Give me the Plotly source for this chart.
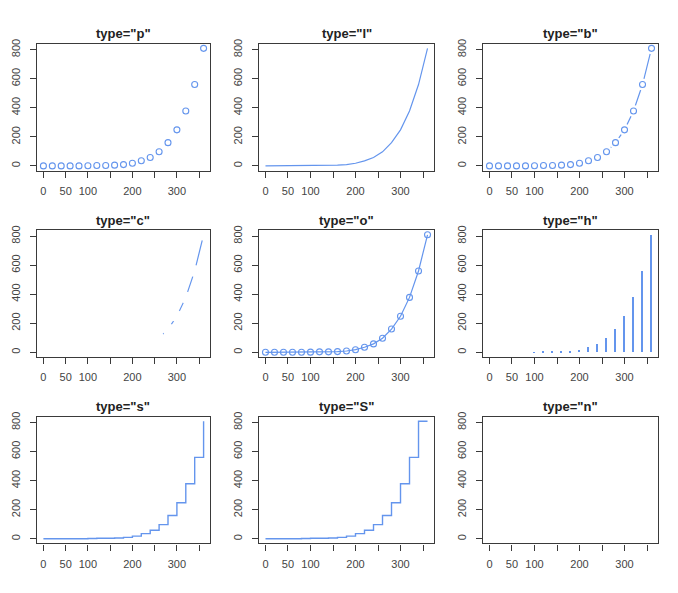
import plotly.graph_objects as go

# ---- data ----
x_vals = [0, 20, 40, 60, 80, 100, 120, 140, 160, 180, 200, 220, 240, 260, 280, 300, 320, 340, 360]
y_vals = [0, 0, 0, 0, 0, 1, 3, 3, 5, 9, 18, 35, 58, 97, 160, 248, 378, 560, 809]
panel_types = ["p", "l", "b", "c", "o", "h", "s", "S", "n"]
x_tick_vals = [0, 50, 100, 150, 200, 250, 300, 350]
x_tick_text = ["0", "50", "100", "", "200", "", "300", ""]
y_tick_vals = [0, 200, 400, 600, 800]

BLUE = "#6495ED"
W, H = 678, 593
col_px = [(37, 210), (259, 434), (483, 658)]
row_px = [(39, 167), (227, 355), (415, 543)]

xr = [min(x_vals) - 0.04 * (max(x_vals) - min(x_vals)), max(x_vals) + 0.04 * (max(x_vals) - min(x_vals))]
yr = [min(y_vals) - 0.04 * (max(y_vals) - min(y_vals)), max(y_vals) + 0.04 * (max(y_vals) - min(y_vals))]

fig = go.Figure()
annotations = []
layout = {}

for i, t in enumerate(panel_types):
    r, c = divmod(i, 3)
    n = i + 1
    xa = "x" if n == 1 else f"x{n}"
    ya = "y" if n == 1 else f"y{n}"
    xkey = "xaxis" if n == 1 else f"xaxis{n}"
    ykey = "yaxis" if n == 1 else f"yaxis{n}"
    x0, x1 = col_px[c]
    y0, y1 = row_px[r]
    layout[xkey] = dict(
        domain=[x0 / W, x1 / W], anchor=ya, range=xr, showgrid=False, zeroline=False,
        showline=True, mirror=True, linecolor="#3a3a3a", linewidth=1.3,
        ticks="outside", ticklen=6, tickwidth=1.2, tickcolor="#3a3a3a",
        tickvals=x_tick_vals, ticktext=x_tick_text, ticklabelstandoff=4,
        tickfont=dict(family="Liberation Sans, Arial", size=11, color="#444444"),
    )
    layout[ykey] = dict(
        domain=[1 - y1 / H, 1 - y0 / H], anchor=xa, range=yr, showgrid=False, zeroline=False,
        showline=True, mirror=True, linecolor="#3a3a3a", linewidth=1.3,
        ticks="outside", ticklen=6, tickwidth=1.2, tickcolor="#3a3a3a",
        tickvals=y_tick_vals, tickangle=-90, ticklabelstandoff=5,
        tickfont=dict(family="Liberation Sans, Arial", size=11, color="#444444"),
    )
    annotations.append(dict(
        text=f'<b>type="{t}"</b>', x=(x0 + x1) / 2 / W, y=1 - (y0 - 10) / H,
        xref="paper", yref="paper", xanchor="center", yanchor="middle", showarrow=False,
        font=dict(family="Liberation Sans, Arial", size=13, color="#222222"),
    ))

    common = dict(xaxis=xa, yaxis=ya, showlegend=False, hoverinfo="skip")
    line = dict(color=BLUE, width=1.2)
    circ = dict(symbol="circle-open", size=6, color=BLUE, line=dict(width=1.1, color=BLUE))
    if t == "p":
        fig.add_trace(go.Scatter(x=x_vals, y=y_vals, mode="markers", marker=circ, **common))
    elif t == "l":
        fig.add_trace(go.Scatter(x=x_vals, y=y_vals, mode="lines", line=line, **common))
    elif t == "b":
        fig.add_trace(go.Scatter(x=x_vals, y=y_vals, mode="lines", line=line, **common))
        fig.add_trace(go.Scatter(x=x_vals, y=y_vals, mode="markers",
                                 marker=dict(symbol="circle", size=12, color="white", line=dict(width=0)), **common))
        fig.add_trace(go.Scatter(x=x_vals, y=y_vals, mode="markers", marker=circ, **common))
    elif t == "c":
        fig.add_trace(go.Scatter(x=x_vals, y=y_vals, mode="lines", line=line, **common))
        fig.add_trace(go.Scatter(x=x_vals, y=y_vals, mode="markers",
                                 marker=dict(symbol="circle", size=12, color="white", line=dict(width=0)), **common))
    elif t == "o":
        fig.add_trace(go.Scatter(x=x_vals, y=y_vals, mode="lines+markers", line=line, marker=circ, **common))
    elif t == "h":
        fig.add_trace(go.Bar(x=x_vals, y=y_vals, width=3.2, marker=dict(color=BLUE, line=dict(width=0)), **common))
    elif t == "s":
        fig.add_trace(go.Scatter(x=x_vals, y=y_vals, mode="lines", line=dict(color=BLUE, width=1.4, shape="hv"), **common))
    elif t == "S":
        fig.add_trace(go.Scatter(x=x_vals, y=y_vals, mode="lines", line=dict(color=BLUE, width=1.4, shape="vh"), **common))
    elif t == "n":
        fig.add_trace(go.Scatter(x=x_vals, y=y_vals, mode="none", **common))

fig.update_layout(
    width=W, height=H, margin=dict(l=0, r=0, t=0, b=0),
    paper_bgcolor="white", plot_bgcolor="white",
    annotations=annotations, bargap=0, **layout,
)
fig.write_html("out.html", config={"displayModeBar": False})
